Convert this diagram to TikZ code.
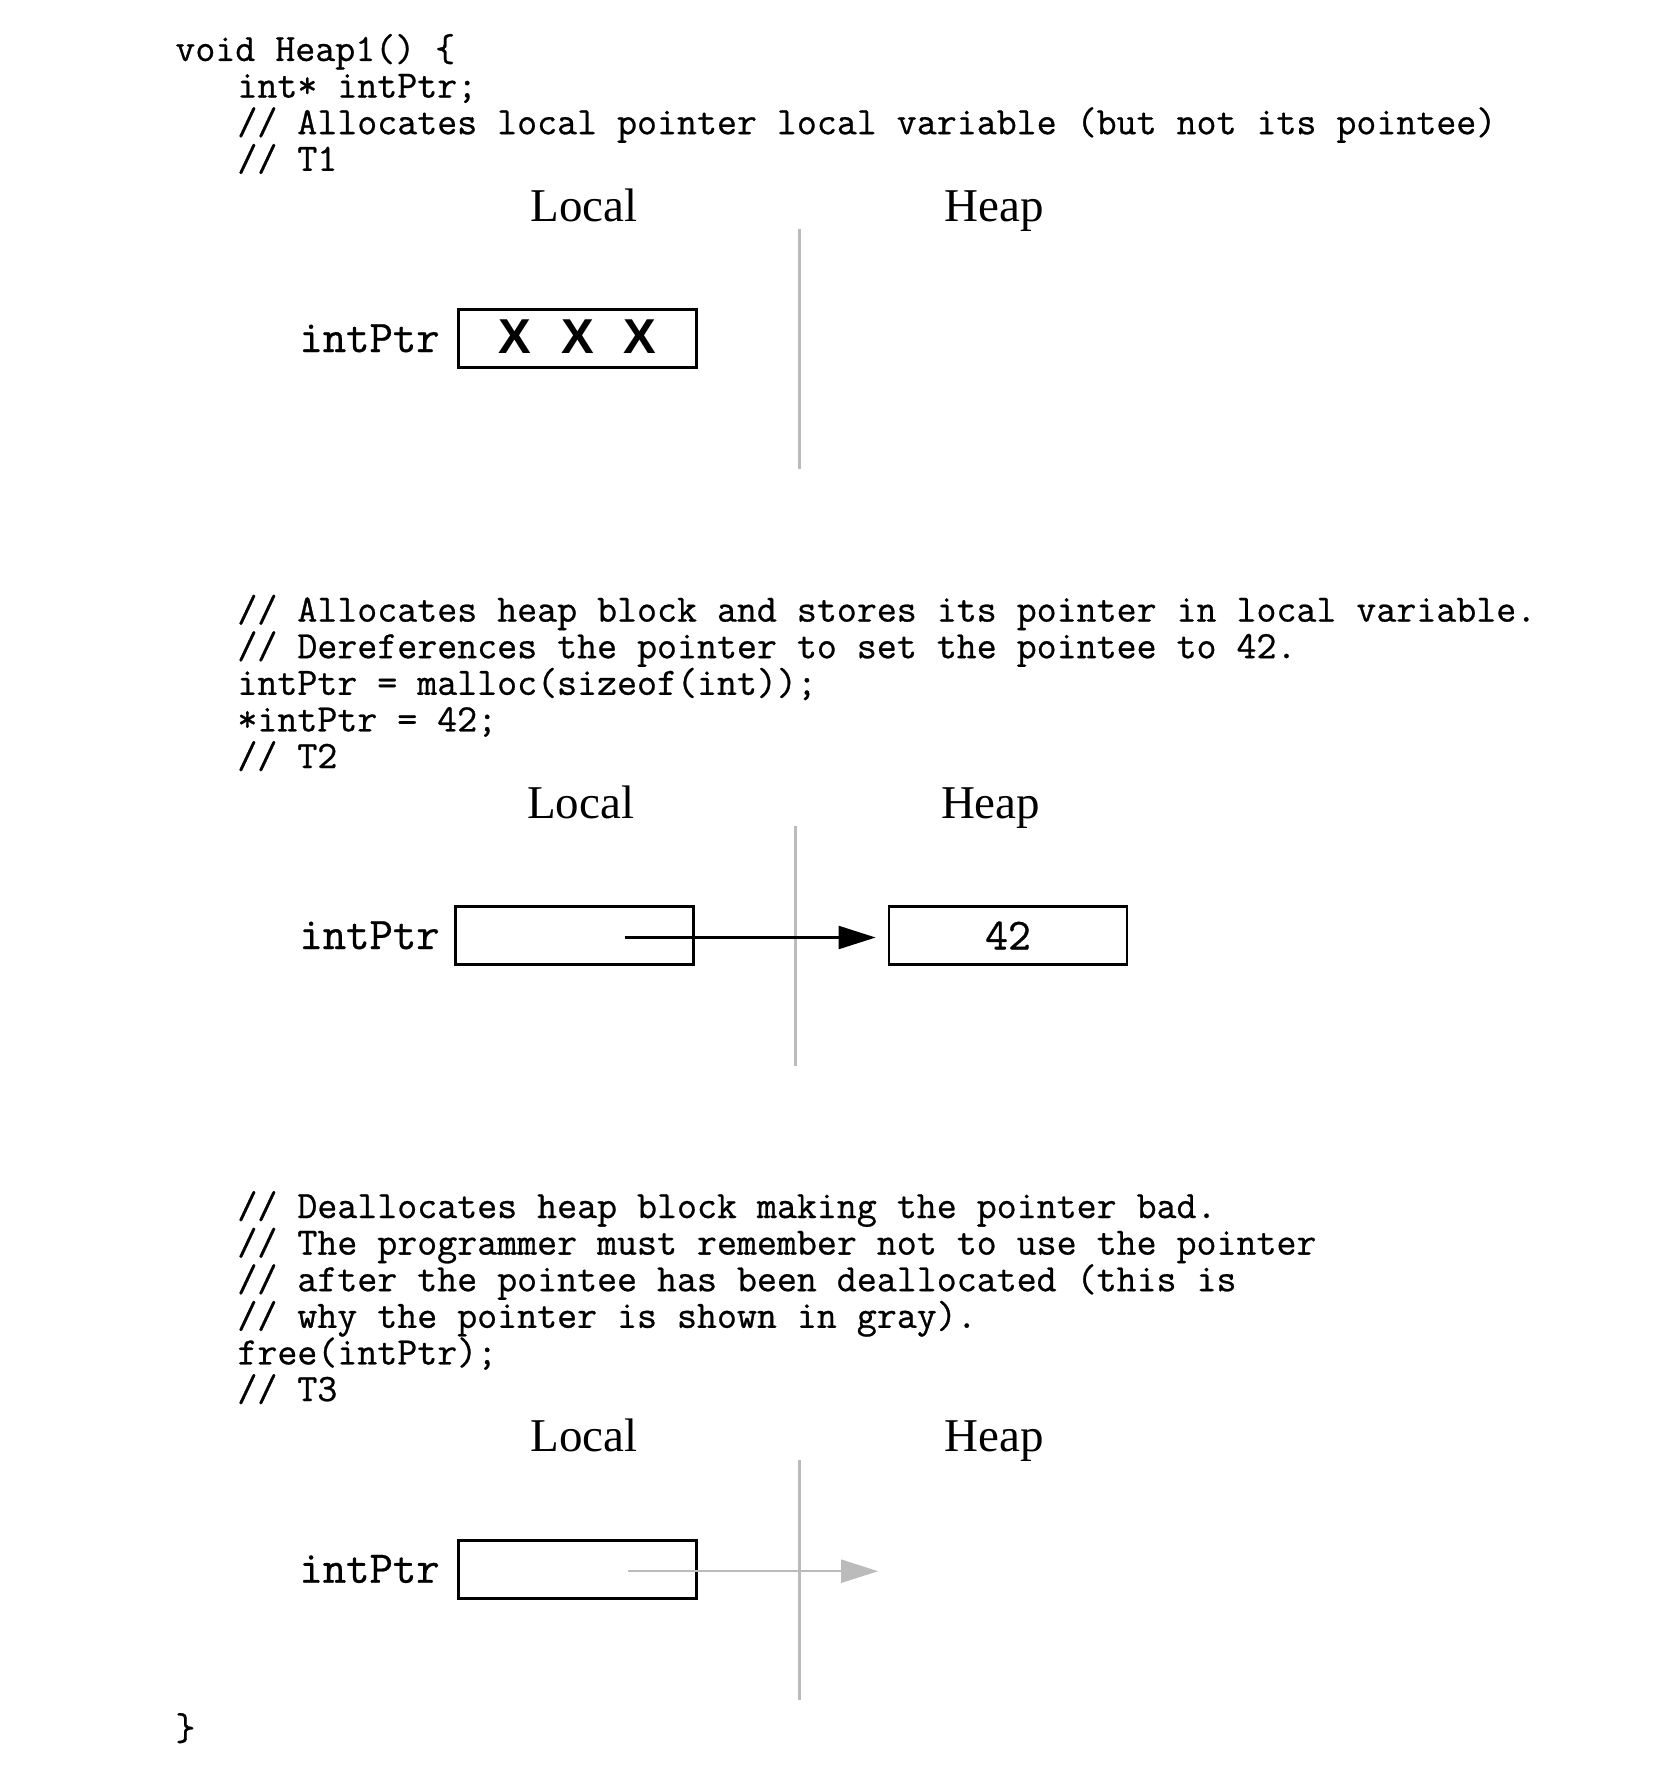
\documentclass[tikz,border=0pt]{standalone}
\usepackage{fontspec}
\setmonofont{Latin Modern Mono}[FakeBold=0.7]
\newfontfamily\headfont{Liberation Serif}
\newfontfamily\crossfont{Liberation Sans}
\usetikzlibrary{arrows.meta,calc}
\definecolor{divider}{RGB}{187,187,187}

\tikzset{
  code/.style={font=\ttfamily\fontsize{19.4}{20}\selectfont, anchor=base west, inner sep=0pt},
  head/.style={font=\headfont\fontsize{23.5}{25}\selectfont, anchor=base, inner sep=0pt},
  varname/.style={font=\ttfamily\fontsize{22.7}{24}\selectfont, anchor=base east, inner sep=0pt},
  cell/.style={draw, line width=1.4pt, minimum width=119pt, minimum height=29pt, inner sep=0pt,
    font=\ttfamily\fontsize{22.2}{24}\selectfont},
  cross/.style={font=\crossfont\bfseries\fontsize{24.5}{26}\selectfont, inner sep=0pt},
  divide/.style={draw=divider, line width=1.5pt},
  ptr/.style={line width=1.2pt, -{Triangle[length=18.5pt,width=11.5pt]}},
}

\begin{document}
\begin{tikzpicture}[x=0.5pt, y=-0.5pt]
  \fill[white] (0,0) rectangle (1670,1766);
  \useasboundingbox (0,0) rectangle (1670,1766);

  % code before T1
  \node[code] (void) at (175,61) {void Heap1() \{};
  \foreach \t [count=\i from 1] in {{int* intPtr;},
      {// Allocates local pointer local variable (but not its pointee)},
      {// T1}} {
    \node[code] (a\i) at (237,{61+36.6*\i}) {\t};
  }

  % T1
  \node[head] (loc1) at (584,221) {Local};
  \node[head] (heap1) at (994,221) {Heap};
  \draw[divide] (799,229) -- (799,469);
  \node[cell] (p1) at (577.5,338.5) {};
  \node[varname] (n1) at ($(p1.west)+(-17,13.5)$) {intPtr};
  \foreach \dx in {-62.5,0,62.5} {
    \node[cross] at ($(p1)+(\dx,-2)$) {X};
  }

  % code before T2
  \foreach \t [count=\i from 0] in {{// Allocates heap block and stores its pointer in local variable.},
      {// Dereferences the pointer to set the pointee to 42.},
      {intPtr = malloc(sizeof(int));},
      {*intPtr = 42;},
      {// T2}} {
    \node[code] (b\i) at (237,{621.6+36.6*\i}) {\t};
  }

  % T2
  \begin{scope}[shift={(-3.4,597)}]
    \node[head] (loc2) at (584,221) {Local};
    \node[head] (heap2) at (994,221) {Heap};
    \draw[divide] (799,229) -- (799,469);
    \node[cell] (p2) at (577.5,338.5) {};
    \node[varname] (n2) at ($(p2.west)+(-13.6,13.5)$) {intPtr};
    \node[cell] (h2) at (1011.4,338.5) {42};
    \coordinate (d2) at ($(p2.west)+(171,2)$);
    \draw[ptr, shorten >=6pt] (d2) -- (d2 -| h2.west);
  \end{scope}

  % code before T3
  \foreach \t [count=\i from 0] in {{// Deallocates heap block making the pointer bad.},
      {// The programmer must remember not to use the pointer},
      {// after the pointee has been deallocated (this is},
      {// why the pointer is shown in gray).},
      {free(intPtr);},
      {// T3}} {
    \node[code] (c\i) at (237,{1218+36.6*\i}) {\t};
  }

  % T3
  \begin{scope}[shift={(0,1230.7)}]
    \node[head] (loc3) at (584,221) {Local};
    \node[head] (heap3) at (994,221) {Heap};
    \draw[divide] (799,229) -- (799,469);
    \node[cell] (p3) at (577.5,338.5) {};
    \node[varname] (n3) at ($(p3.west)+(-17,13.5)$) {intPtr};
    \coordinate (d3) at ($(p3.west)+(171,2)$);
    \coordinate (e3) at ($(d3)+(250,0)$);
    \draw[ptr, draw=divider, fill=divider] (d3) -- (e3);
  \end{scope}

  \node[code] (close) at (175,1740) {\}};
\end{tikzpicture}
\end{document}
